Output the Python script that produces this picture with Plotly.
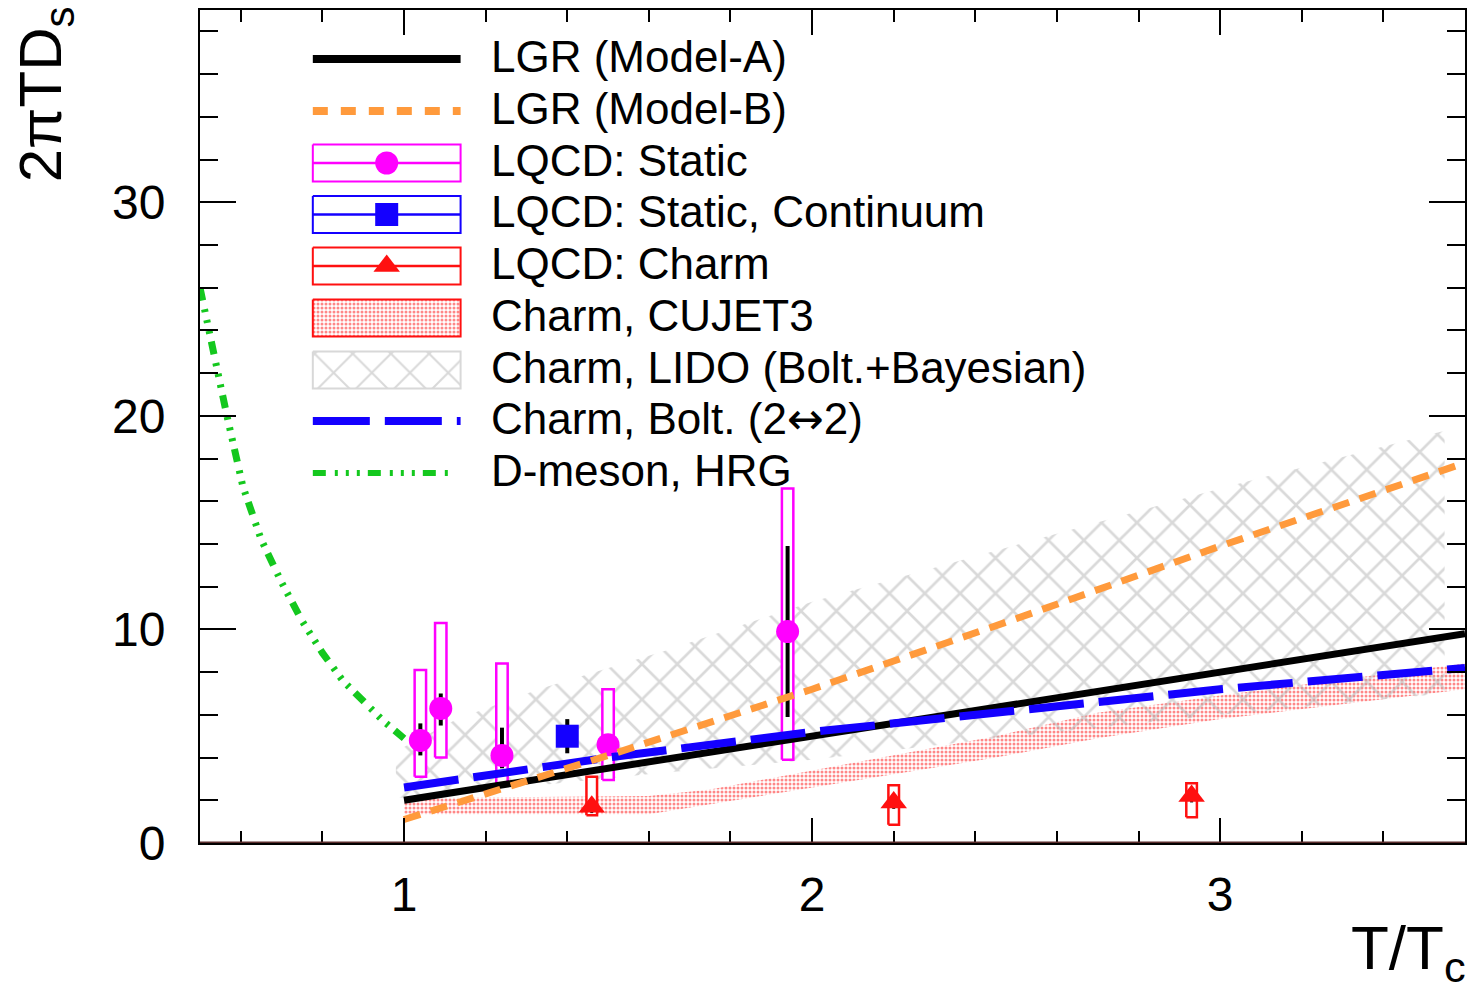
import plotly.graph_objects as go

# ---------------- figure geometry ----------------
W, H = 1471, 992
ML, MR, MT, MB = 200, 4, 10, 149
X_RANGE = [0.5, 3.6]
Y_RANGE = [0, 39]
FONT = "Liberation Sans, Arial, Helvetica, sans-serif"

# ---------------- data ----------------
lgr_a_x = [1.0, 1.5, 2.0, 2.5, 3.0, 3.6]
lgr_a_y = [2.0, 3.5, 5.0, 6.5, 8.0, 9.8]

lgr_b_x = [1.0, 1.5, 2.0, 2.5, 3.0, 3.6]
lgr_b_y = [1.1, 4.1, 7.2, 10.5, 13.9, 17.8]

bolt_x = [1.0, 1.5, 2.0, 2.5, 3.0, 3.6]
bolt_y = [2.6, 4.0, 5.2, 6.2, 7.2, 8.2]

hrg_x = [0.5, 0.52, 0.544, 0.566, 0.59, 0.605, 0.65, 0.7, 0.75, 0.8, 0.85, 0.9, 0.95, 1.0]
hrg_y = [26.0, 24.0, 22.0, 20.0, 18.0, 16.7, 14.2, 12.2, 10.4, 8.9, 7.6, 6.6, 5.7, 4.9]

cujet_x = [1.0, 1.6, 1.75, 2.0, 2.45, 2.7, 3.0, 3.6]
cujet_lo = [1.35, 1.35, 1.8, 2.6, 4.0, 4.9, 5.8, 7.2]
cujet_hi = [2.1, 2.2, 2.5, 3.4, 5.0, 6.1, 6.9, 8.4]

lido_x = [0.98, 1.13, 1.33, 1.64, 2.0, 2.45, 2.7, 3.0, 3.55]
lido_lo = [2.1, 2.4, 2.7, 3.3, 3.9, 4.9, 5.4, 6.0, 7.0]
lido_hi = [4.3, 5.8, 7.2, 9.0, 11.3, 13.7, 15.0, 16.6, 19.3]

static_x = [1.04, 1.09, 1.24, 1.50, 1.94]
static_y = [4.8, 6.3, 4.1, 4.6, 9.9]
static_stat_up = [0.8, 0.7, 1.3, 0.4, 4.0]
static_stat_dn = [0.7, 0.8, 0.6, 0.4, 4.0]
static_sys_lo = [3.1, 4.0, 2.8, 2.95, 3.9]
static_sys_hi = [8.1, 10.3, 8.4, 7.2, 16.6]

cont_x = [1.40]
cont_y = [5.0]
cont_stat = [0.8]

charm_x = [1.46, 2.2, 2.93]
charm_y = [1.7, 1.9, 2.2]
charm_stat = [0.3, 0.3, 0.3]
charm_sys_lo = [1.3, 0.85, 1.2]
charm_sys_hi = [3.1, 2.7, 2.8]

legend_labels = [
    "LGR (Model-A)",
    "LGR (Model-B)",
    "LQCD: Static",
    "LQCD: Static, Continuum",
    "LQCD: Charm",
    "Charm, CUJET3",
    "Charm, LIDO (Bolt.+Bayesian)",
    "Charm, Bolt. (2<span style=\"font-family:'DejaVu Sans'\">\u2194</span>2)",
    "D-meson, HRG",
]

# ---------------- styles ----------------
C_BLACK = "#000000"
C_ORANGE = "#ff9a3c"
C_MAGENTA = "#ff00ff"
C_BLUE = "#1400ff"
C_RED = "#ff1010"
C_GREEN = "#14c81e"
C_GRAY = "#b4b4b4"
DASH_B = "17px,11px"
DASH_BOLT = "55px,15px"
DASH_HRG = "13px,9px,3px,8px,3px,8px,3px,8px"
BOX_HW = 0.014
CBOX_HW = 0.013

fig = go.Figure()


def band(xs, lo, hi):
    return list(xs) + list(xs)[::-1], list(hi) + list(lo)[::-1]


def boxes(xs, lo, hi, hw):
    bx, by = [], []
    for x, l, h in zip(xs, lo, hi):
        bx += [x - hw, x + hw, x + hw, x - hw, x - hw, None]
        by += [l, l, h, h, l, None]
    return bx, by


# CUJET3 band (red dots)
bx, by = band(cujet_x, cujet_lo, cujet_hi)
fig.add_trace(go.Scatter(
    x=bx, y=by, mode="lines", fill="toself", line=dict(width=0),
    fillcolor="rgba(255,255,255,0)",
    fillpattern=dict(shape=".", fgcolor=C_RED, bgcolor="rgba(255,255,255,0)",
                     size=4, solidity=0.45),
    hoverinfo="skip", showlegend=False))

# LIDO band (gray cross hatch)
bx, by = band(lido_x, lido_lo, lido_hi)
fig.add_trace(go.Scatter(
    x=bx, y=by, mode="lines", fill="toself", line=dict(width=0),
    fillcolor="rgba(255,255,255,0)",
    fillpattern=dict(shape="x", fgcolor=C_GRAY, bgcolor="rgba(255,255,255,0)",
                     size=25, solidity=0.2),
    hoverinfo="skip", showlegend=False))

# systematic boxes
bx, by = boxes(static_x, static_sys_lo, static_sys_hi, BOX_HW)
fig.add_trace(go.Scatter(x=bx, y=by, mode="lines", fill="toself", fillcolor="white",
                         line=dict(color=C_MAGENTA, width=2.5), showlegend=False,
                         hoverinfo="skip"))
bx, by = boxes(charm_x, charm_sys_lo, charm_sys_hi, CBOX_HW)
fig.add_trace(go.Scatter(x=bx, y=by, mode="lines", fill="toself", fillcolor="white",
                         line=dict(color=C_RED, width=2.5), showlegend=False,
                         hoverinfo="skip"))

# data points
fig.add_trace(go.Scatter(
    x=static_x, y=static_y, mode="markers",
    marker=dict(symbol="circle", size=23, color=C_MAGENTA, line=dict(width=0)),
    error_y=dict(type="data", symmetric=False, array=static_stat_up,
                 arrayminus=static_stat_dn, color="black", thickness=4, width=0),
    showlegend=False))
fig.add_trace(go.Scatter(
    x=cont_x, y=cont_y, mode="markers",
    marker=dict(symbol="square", size=23, color=C_BLUE, line=dict(width=0)),
    error_y=dict(type="data", array=cont_stat, color="black", thickness=4, width=0),
    showlegend=False))
fig.add_trace(go.Scatter(
    x=charm_x, y=charm_y, mode="markers",
    marker=dict(symbol="triangle-up", size=23, color=C_RED, line=dict(width=0)),
    error_y=dict(type="data", array=charm_stat, color="black", thickness=3, width=0),
    showlegend=False))

# curves
fig.add_trace(go.Scatter(x=hrg_x, y=hrg_y, mode="lines",
                         line=dict(color=C_GREEN, width=7, dash=DASH_HRG),
                         showlegend=False))
fig.add_trace(go.Scatter(x=lgr_a_x, y=lgr_a_y, mode="lines",
                         line=dict(color=C_BLACK, width=7), showlegend=False))
fig.add_trace(go.Scatter(x=bolt_x, y=bolt_y, mode="lines",
                         line=dict(color=C_BLUE, width=8, dash=DASH_BOLT),
                         showlegend=False))
fig.add_trace(go.Scatter(x=lgr_b_x, y=lgr_b_y, mode="lines",
                         line=dict(color=C_ORANGE, width=7, dash=DASH_B),
                         showlegend=False))

# ---------------- custom legend (pixel overlay axes) ----------------
ROWS = [59, 111, 163, 214.5, 266, 318, 370, 421, 473]
SX0, SX1 = 313, 461
SXC = (SX0 + SX1) / 2
BH = 18.5
TEXT_X = 489


def lg(**kw):
    kw.setdefault("showlegend", False)
    kw.setdefault("hoverinfo", "skip")
    fig.add_trace(go.Scatter(xaxis="x3", yaxis="y3", **kw))


def rect(c):
    return [SX0, SX1, SX1, SX0, SX0], [c - BH, c - BH, c + BH, c + BH, c - BH]


lg(x=[SX0, SX1], y=[ROWS[0]] * 2, mode="lines", line=dict(color=C_BLACK, width=8))
lg(x=[SX0, SX1], y=[ROWS[1]] * 2, mode="lines",
   line=dict(color=C_ORANGE, width=8, dash="15px,13px"))
for row, col, sym in [(ROWS[2], C_MAGENTA, "circle"), (ROWS[3], C_BLUE, "square"),
                      (ROWS[4], C_RED, "triangle-up")]:
    rx, ry = rect(row)
    lg(x=rx, y=ry, mode="lines", line=dict(color=col, width=2))
    lg(x=[SX0, SX1], y=[row, row], mode="lines", line=dict(color=col, width=2.5))
    lg(x=[SXC], y=[row], mode="markers",
       marker=dict(symbol=sym, size=23, color=col, line=dict(width=0)))
rx, ry = rect(ROWS[5])
lg(x=rx, y=ry, mode="lines", fill="toself", fillcolor="rgba(255,255,255,0)",
   line=dict(color=C_RED, width=2),
   fillpattern=dict(shape=".", fgcolor=C_RED, bgcolor="rgba(255,255,255,0)",
                    size=4, solidity=0.45))
rx, ry = rect(ROWS[6])
lg(x=rx, y=ry, mode="lines", fill="toself", fillcolor="rgba(255,255,255,0)",
   line=dict(color="#d8d8d8", width=2),
   fillpattern=dict(shape="x", fgcolor=C_GRAY, bgcolor="rgba(255,255,255,0)",
                    size=27, solidity=0.15))
lg(x=[SX0, SX1], y=[ROWS[7]] * 2, mode="lines",
   line=dict(color=C_BLUE, width=8, dash="57px,15px"))
lg(x=[SX0, SX1 - 6], y=[ROWS[8]] * 2, mode="lines",
   line=dict(color=C_GREEN, width=6, dash=DASH_HRG))

PW = W - ML - MR
PH = H - MT - MB


def fx(p):
    return (p - ML) / PW


def fy(p):
    return (H - MB - p) / PH


annotations = []
for lab, row in zip(legend_labels, ROWS):
    annotations.append(dict(text=lab, x=fx(TEXT_X), y=fy(row - 3), xref="paper",
                            yref="paper", xanchor="left", yanchor="middle",
                            showarrow=False, font=dict(family=FONT, size=44,
                                                       color="black")))
annotations.append(dict(text="2\u03c0TD<sub>s</sub>", textangle=-90, x=fx(45),
                        y=fy(4), xref="paper", yref="paper", xanchor="center",
                        yanchor="top", showarrow=False,
                        font=dict(family=FONT, size=60, color="black")))
annotations.append(dict(text="T/T<sub>c</sub>", x=fx(1470), y=fy(911), xref="paper",
                        yref="paper", xanchor="right", yanchor="top",
                        showarrow=False, font=dict(family=FONT, size=62, color="black")))

axis_common = dict(showgrid=False, zeroline=False, showline=True, linecolor="black",
                   linewidth=2, mirror="ticks", ticks="inside", tickcolor="black",
                   tickwidth=2, tickfont=dict(family=FONT, size=48, color="black"))

fig.update_layout(
    width=W, height=H,
    margin=dict(l=ML, r=MR, t=MT, b=MB, pad=0),
    paper_bgcolor="white", plot_bgcolor="white",
    showlegend=False,
    xaxis=dict(range=X_RANGE, tickmode="linear", tick0=0, dtick=1, ticklen=25,
               ticklabelstandoff=8,
               minor=dict(dtick=0.2, tick0=0, ticklen=12, ticks="inside",
                          tickcolor="black", tickwidth=2),
               **axis_common),
    yaxis=dict(range=Y_RANGE, tickmode="linear", tick0=0, dtick=10, ticklen=36,
               ticklabelstandoff=23,
               minor=dict(dtick=2, tick0=0, ticklen=18, ticks="inside",
                          tickcolor="black", tickwidth=2),
               **axis_common),
    xaxis3=dict(overlaying="x", range=[ML, W - MR], visible=False, fixedrange=True),
    yaxis3=dict(overlaying="y", range=[H - MB, MT], visible=False, fixedrange=True),
    annotations=annotations,
    shapes=[dict(type="line", xref="paper", yref="y", x0=0, x1=1, y0=0, y1=0,
                 line=dict(color="#5a2c2c", width=3), layer="above")],
)

fig.write_html("out.html")
